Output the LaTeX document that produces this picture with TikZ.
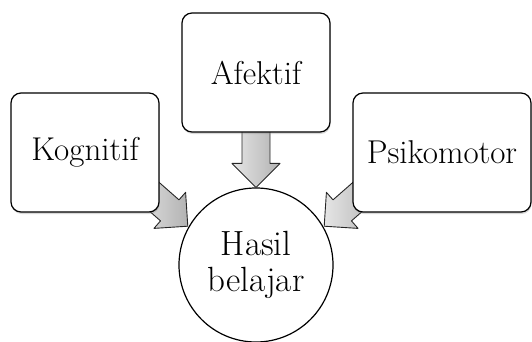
\documentclass[tikz,border=0pt]{standalone}
\usetikzlibrary{calc,shadows}

\tikzset{
  box/.style={draw, line width=1.2pt, rounded corners=10pt, fill=white,
    minimum width=148pt, minimum height=119pt, font=\fontsize{33}{38}\selectfont,
    drop shadow={shadow xshift=0.6pt, shadow yshift=-2pt, opacity=0.3}},
  goal/.style={draw, circle, line width=1.2pt, fill=white, minimum size=154pt,
    inner sep=0pt, align=center, font=\fontsize{35}{36}\selectfont},
  blockarrow/.style={draw=black!85, line width=0.9pt, line join=round,
    left color=gray!20, right color=gray!60}
}
% block arrow from #1 to #2
\newcommand{\bigarrow}[2]{
  \coordinate (#2-b) at ($(#2)!24pt!(#1)$);
  \draw[blockarrow] ($(#1)!14pt!90:(#2)$) -- ($(#2-b)!14pt!90:(#2)$) -- ($(#2-b)!24pt!90:(#2)$)
    -- (#2) -- ($(#2-b)!24pt!-90:(#2)$) -- ($(#2-b)!14pt!-90:(#2)$) -- ($(#1)!14pt!-90:(#2)$) -- cycle;
}

\begin{document}
\begin{tikzpicture}[x=1pt,y=-1pt]
  \useasboundingbox (0,0) rectangle (532,342);
  \node[goal] (hasil) at (256,265) {Hasil\\belajar};

  \coordinate (ks) at (142,186);
  \coordinate (as) at (256,100);
  \coordinate (ps) at (370,186);
  \coordinate (kt) at ($(hasil.150)+(-1,0)$);
  \coordinate (at) at (hasil.north);
  \coordinate (pt) at ($(hasil.30)+(1,0)$);
  \bigarrow{ks}{kt}
  \bigarrow{as}{at}
  \bigarrow{ps}{pt}

  \node[box] (kognitif) at (85,152.5) {Kognitif};
  \node[box] (afektif) at (256,72.5) {Afektif};
  \node[box, minimum width=178pt] (psikomotor) at (442,152.5) {Psikomotor};
\end{tikzpicture}
\end{document}
